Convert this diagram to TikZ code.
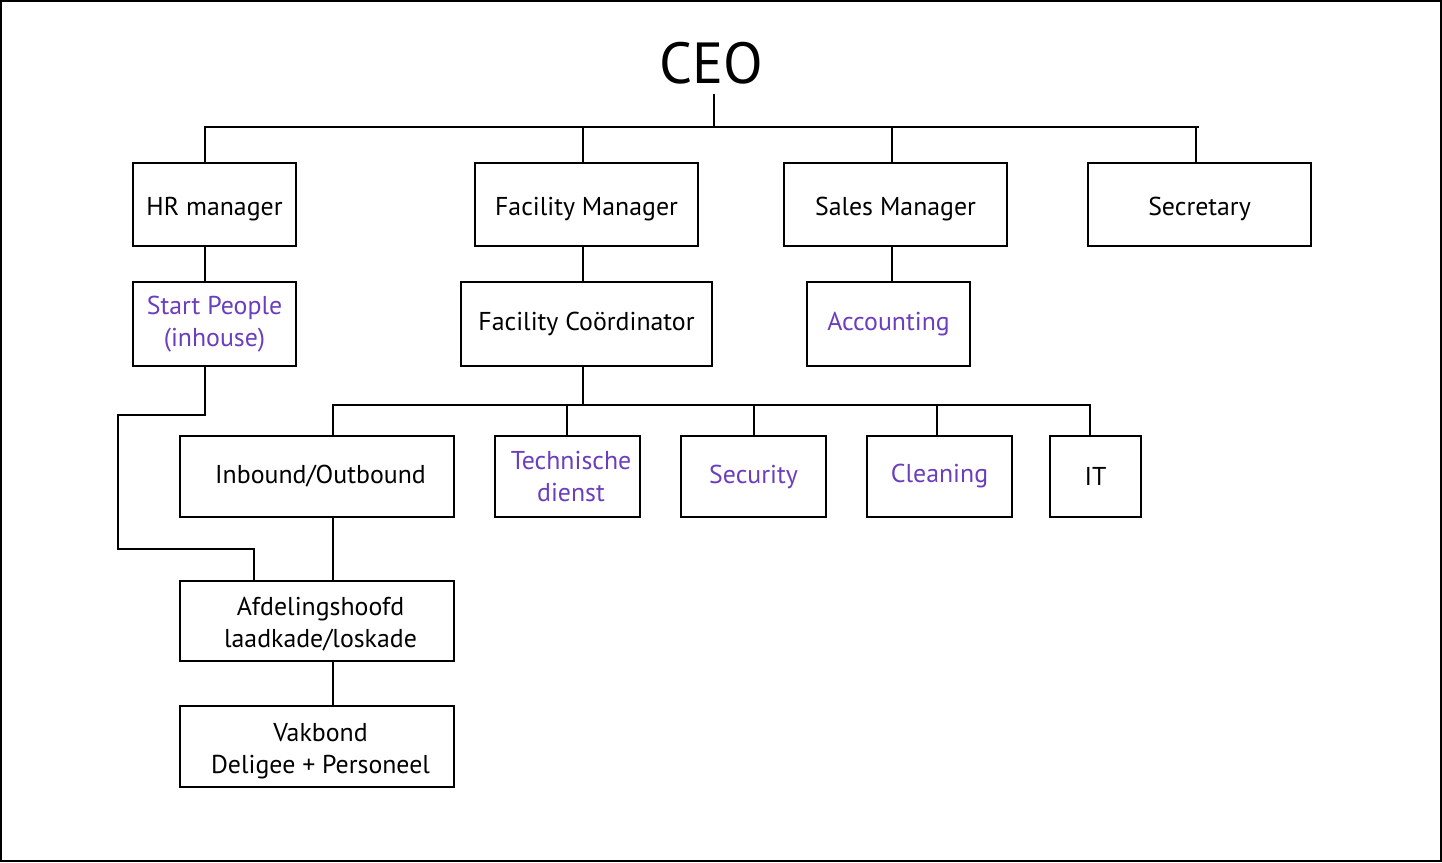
\documentclass[tikz,border=0pt]{standalone}
\usepackage{fontspec}
\setmainfont{PT Sans}
\definecolor{dept}{RGB}{107,62,190}
\newcommand{\lowtext}[2][2.8pt]{\raisebox{-#1}[\height][\depth]{#2}}
\newcommand{\lowpair}[2]{\raisebox{-2.4pt}[\height][\depth]{\begin{tabular}{@{}c@{}}#1\\#2\end{tabular}}}

\begin{document}
\begin{tikzpicture}[x=0.02cm,y=-0.02cm]
\tikzset{every node/.style={inner sep=0pt, font=\fontsize{14.7}{18.2}\selectfont},
  box/.style={draw=black, line width=1.1pt, align=center, minimum height=1.66cm},
  dept/.style={box, text=dept}}
\useasboundingbox (0,0) rectangle (1442,862);
\draw [black, line width=1.4pt] (1,1) rectangle (1441,861);
% top
\node (ceo) at (711,63) [font=\fontsize{33}{38}\selectfont, minimum height=1.24cm] {CEO};
\node [box, minimum width=3.26cm] (hr) at (214.5,204.5) {\lowtext{HR manager}};
\node [box, minimum width=4.46cm] (fm) at (586.5,204.5) {\lowtext{Facility Manager}};
\node [box, minimum width=4.46cm] (sm) at (895.5,204.5) {\lowtext{Sales Manager}};
\node [box, minimum width=4.46cm] (sec) at (1199.5,204.5) {\lowtext{Secretary}};
% second row
\node [dept, minimum width=3.26cm, minimum height=1.68cm] (start) at (214.5,324) {Start People\\(inhouse)};
\node [box, minimum width=5.02cm, minimum height=1.68cm] (fc) at (586.5,324) {Facility Coördinator};
\node [dept, minimum width=3.26cm, minimum height=1.68cm] (acc) at (888.5,324) {Accounting};
% third row
\node [box, minimum width=5.48cm, minimum height=1.62cm] (inb) at (317,476.5) {\hspace{4pt}Inbound/Outbound};
\node [dept, minimum width=2.9cm, minimum height=1.62cm] (tech) at (567.5,476.5) {\hspace{4pt}Technische\\\hspace{4pt}dienst};
\node [dept, minimum width=2.9cm, minimum height=1.62cm] (secu) at (753.5,476.5) {Security};
\node [dept, minimum width=2.9cm, minimum height=1.62cm] (clean) at (939.5,476.5) {Cleaning};
\node [box, minimum width=1.82cm, minimum height=1.62cm] (it) at (1095.5,476.5) {IT};
% bottom
\node [box, minimum width=5.48cm, minimum height=1.6cm] (afd) at (317,621) {\hspace{4pt}\lowpair{Afdelingshoofd}{laadkade/loskade}};
\node [box, minimum width=5.48cm, minimum height=1.62cm] (vak) at (317,746.5) {\hspace{4pt}\lowpair{Vakbond}{Deligee + Personeel}};
% lines
\coordinate (bus) at (714,127);
\coordinate (fcbus) at (583,405);
\draw [black, line width=1.1pt] (ceo.south -| bus) -- (bus);
\draw [black, line width=1.1pt] ([xshift=-0.19cm]hr.north) |- ([xshift=-0.01cm]sec.north |- bus) ;
\draw [black, line width=1.1pt] ([xshift=-0.07cm]sec.north) -- ([xshift=-0.07cm]sec.north |- bus);
\draw [black, line width=1.1pt] ([xshift=-0.07cm]fm.north) -- ([xshift=-0.07cm]fm.north |- bus);
\draw [black, line width=1.1pt] ([xshift=-0.07cm]sm.north) -- ([xshift=-0.07cm]sm.north |- bus);
\draw [black, line width=1.1pt] ([xshift=-0.19cm]hr.south) -- ([xshift=-0.19cm]start.north);
\draw [black, line width=1.1pt] ([xshift=-0.07cm]fm.south) -- ([xshift=-0.07cm]fc.north);
\draw [black, line width=1.1pt] ([xshift=-0.07cm]sm.south) -- ([xshift=0.07cm]acc.north);
\draw [black, line width=1.1pt] ([xshift=-0.07cm]fc.south) -- (fcbus);
\draw [black, line width=1.1pt] ([xshift=0.32cm]inb.north) |- ([xshift=-0.11cm]it.north |- fcbus) -- ([xshift=-0.11cm]it.north);
\draw [black, line width=1.1pt] ([xshift=-0.01cm]tech.north) -- ([xshift=-0.01cm]tech.north |- fcbus);
\draw [black, line width=1.1pt] ([xshift=0.01cm]secu.north) -- ([xshift=0.01cm]secu.north |- fcbus);
\draw [black, line width=1.1pt] ([xshift=-0.05cm]clean.north) -- ([xshift=-0.05cm]clean.north |- fcbus);
\draw [black, line width=1.1pt] ([xshift=0.32cm]inb.south) -- ([xshift=0.32cm]afd.north);
\draw [black, line width=1.1pt] ([xshift=0.32cm]afd.south) -- ([xshift=0.32cm]vak.north);
\draw [black, line width=1.1pt] ([xshift=-0.19cm]start.south) -- ++(0,48) -| (118,549) -| ([xshift=-1.26cm]afd.north);
\end{tikzpicture}
\end{document}
